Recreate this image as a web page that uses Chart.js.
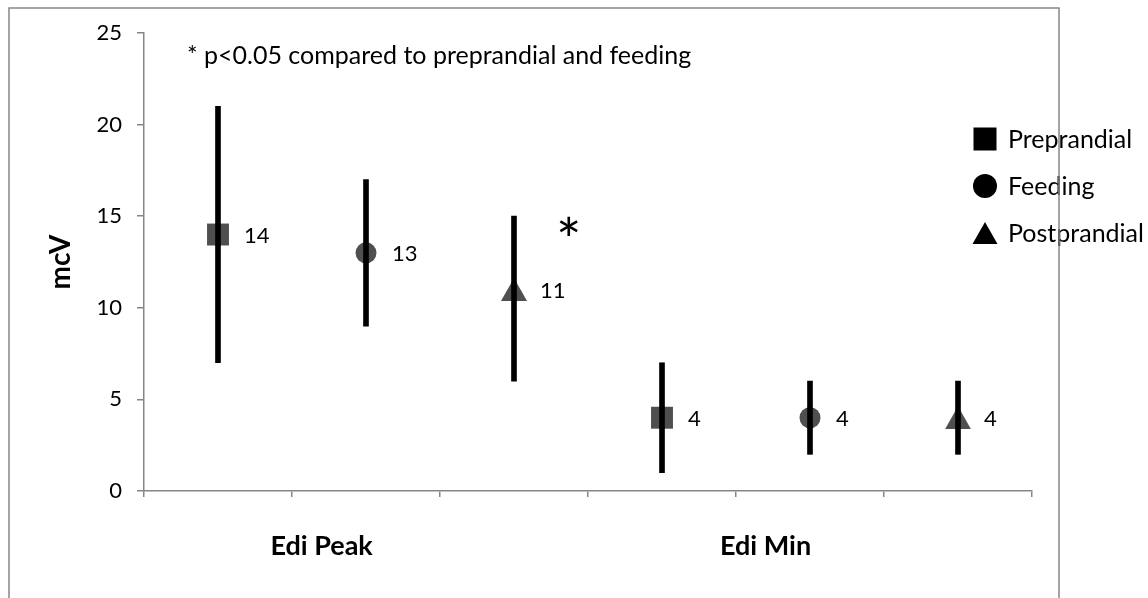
<!DOCTYPE html>
<html><head><meta charset="utf-8">
<script src="https://cdn.jsdelivr.net/npm/chart.js@4.4.1/dist/chart.umd.min.js"></script>
<style>html,body{margin:0;padding:0;background:#fff;overflow:hidden}#wrap{width:1148px;height:598px;position:relative}</style>
</head><body><div id="wrap"><canvas id="c"></canvas></div>
<script>
// ---- data ----
const groups = ['Edi Peak', 'Edi Min'];
const seriesNames = ['Preprandial', 'Feeding', 'Postprandial'];
const preprandial = [14, 4];
const feeding = [13, 4];
const postprandial = [11, 4];
const preprandialLow = [7, 1];
const preprandialHigh = [21, 7];
const feedingLow = [9, 2];
const feedingHigh = [17, 6];
const postprandialLow = [6, 2];
const postprandialHigh = [15, 6];
const yTicks = [0, 5, 10, 15, 20, 25];
const noteText = '* p<0.05 compared to preprandial and feeding';
const starText = '*';
const yTitle = 'mcV';

const FONT = 'Lato, "Open Sans", sans-serif';
const AXIS = '#868686';
const MARK = '#4f4f4f';

const values = [preprandial, feeding, postprandial];
const lows = [preprandialLow, feedingLow, postprandialLow];
const highs = [preprandialHigh, feedingHigh, postprandialHigh];
const nS = seriesNames.length;
const slotX = (g, s) => g * nS + s + 0.5;

function triCanvas(w, h, color) {
  const c = document.createElement('canvas');
  c.width = w; c.height = h;
  const x = c.getContext('2d');
  x.fillStyle = color;
  x.beginPath(); x.moveTo(w / 2, 0); x.lineTo(w, h); x.lineTo(0, h); x.closePath(); x.fill();
  return c;
}
const styles = ['rect', 'circle', triCanvas(26, 23, MARK)];
const radii = [15.5, 10.5, 14];

const datasets = seriesNames.map((name, s) => ({
  type: 'scatter',
  label: name,
  data: groups.map((g, gi) => ({ x: slotX(gi, s), y: values[s][gi] })),
  pointStyle: styles[s],
  pointRadius: radii[s],
  pointHoverRadius: radii[s],
  backgroundColor: MARK,
  borderColor: MARK,
  borderWidth: 0,
  order: 2
}));
const errData = [];
seriesNames.forEach((n, s) => groups.forEach((g, gi) => errData.push({ x: slotX(gi, s), y: [lows[s][gi], highs[s][gi]] })));
datasets.push({
  type: 'bar', label: 'err', data: errData, backgroundColor: '#000', borderWidth: 0,
  barThickness: 5, grouped: false, order: 1, xAxisID: 'x', yAxisID: 'y'
});

const extras = {
  id: 'extras',
  afterDatasetsDraw(chart) {
    const ctx = chart.ctx, xs = chart.scales.x, ys = chart.scales.y;
    ctx.save();
    // data labels
    ctx.fillStyle = '#000';
    ctx.font = '22px ' + FONT;
    ctx.textAlign = 'left'; ctx.textBaseline = 'middle';
    for (let s = 0; s < nS; s++) {
      chart.getDatasetMeta(s).data.forEach((el, i) => {
        ctx.fillText(String(values[s][i]), el.x + 26, el.y + 1);
      });
    }
    // note
    ctx.font = '25px ' + FONT;
    ctx.fillText(noteText, chart.chartArea.left + 43, 56);
    // star
    ctx.font = '60px ' + FONT;
    ctx.textAlign = 'center';
    ctx.fillText(starText, xs.getPixelForValue(2.87), ys.getPixelForValue(13.55));
    // legend
    const lx = 985;
    const ly = [139, 186, 233];
    ctx.fillStyle = '#000';
    ly.forEach((y, s) => {
      ctx.beginPath();
      if (s === 0) ctx.rect(lx - 11.5, y - 11.5, 23, 23);
      else if (s === 1) ctx.arc(lx, y, 12, 0, Math.PI * 2);
      else { ctx.moveTo(lx, y - 11); ctx.lineTo(lx + 12.5, y + 11); ctx.lineTo(lx - 12.5, y + 11); ctx.closePath(); }
      ctx.fill();
    });
    ctx.font = '25px ' + FONT;
    ctx.textAlign = 'left';
    ly.forEach((y, s) => ctx.fillText(seriesNames[s], 1008, y + 1));
    ctx.restore();
  },
  afterDraw(chart) {
    const ctx = chart.ctx;
    ctx.save();
    ctx.strokeStyle = AXIS; ctx.lineWidth = 1.5;
    ctx.strokeRect(9, 8, 1050, 700);
    ctx.restore();
  }
};

new Chart(document.getElementById('c'), {
  type: 'scatter',
  data: { datasets },
  options: {
    responsive: true, maintainAspectRatio: false, animation: false,
    layout: { padding: { left: 0, top: 33, right: 116, bottom: 0 } },
    plugins: { legend: { display: false }, tooltip: { enabled: false } },
    scales: {
      x: {
        type: 'linear', min: 0, max: groups.length * nS, offset: false,
        afterBuildTicks: s => { s.ticks = Array.from({ length: groups.length * nS + 1 }, (_, i) => ({ value: i })); },
        ticks: { callback: () => '', padding: 0 },
        grid: { drawOnChartArea: false, drawTicks: true, tickLength: 6, color: AXIS, lineWidth: 1.5, offset: false },
        border: { color: AXIS, width: 1.5 },
        afterFit: s => { s.height = 8; }
      },
      x2: {
        type: 'linear', position: 'bottom', min: 0, max: groups.length * nS, offset: false,
        afterBuildTicks: s => { s.ticks = groups.map((g, i) => ({ value: i * nS + 1.2 })); },
        ticks: { callback: (v, i) => groups[i], font: { family: FONT, size: 27, weight: 'bold' }, color: '#000', padding: 31, maxRotation: 0, autoSkip: false },
        grid: { display: false, drawTicks: false },
        border: { display: false },
        afterFit: s => { s.height = 99; }
      },
      y: {
        min: 0, max: 25,
        afterBuildTicks: s => { s.ticks = yTicks.map(v => ({ value: v })); },
        ticks: { color: '#000', font: { family: FONT, size: 22 }, padding: 15 },
        grid: { drawOnChartArea: false, drawTicks: true, tickLength: 7, color: AXIS, lineWidth: 1.5 },
        border: { color: AXIS, width: 1.5 },
        title: { display: true, text: yTitle, color: '#000', font: { family: FONT, size: 28, weight: 'bold' }, padding: { top: 44, bottom: 0 } },
        afterFit: s => { s.width = 144; }
      }
    }
  },
  plugins: [extras]
});
</script></body></html>
